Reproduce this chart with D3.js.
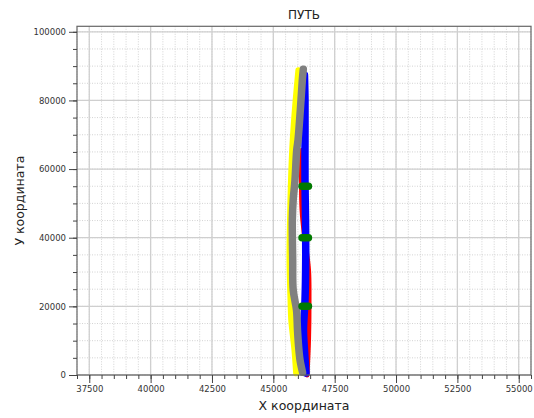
<!DOCTYPE html>
<html>
<head>
<meta charset="utf-8">
<script src="https://cdn.jsdelivr.net/npm/d3@7"></script>
<style>
  body { margin: 0; background: #fff; }
  svg text { font-family: "DejaVu Sans", sans-serif; }
</style>
</head>
<body>
<div id="chart"></div>
<script>
(function () {
  'use strict';

  // path points [x, y]
  var yellowPath = [
    [45930, 500], [45860, 7300], [45770, 13100], [45730, 16000], [45700, 21800],
    [45660, 33500], [45680, 45100], [45720, 56800], [45790, 68400], [45910, 80100], [46020, 88800]
  ];
  var redPath = [
    [46373, 0], [46434, 10200], [46454, 21800], [46434, 30600], [46291, 39300],
    [46170, 48100], [46150, 59700], [46170, 65500]
  ];
  var bluePath = [
    [46332, 600], [46270, 7300], [46230, 13100], [46291, 21800], [46320, 33500],
    [46312, 45100], [46291, 56800], [46291, 68400], [46291, 80100], [46270, 87400]
  ];
  var grayPath = [
    [46190, 800], [46087, 4400], [46026, 8700], [45985, 13100], [45945, 18900],
    [45810, 24800], [45790, 33500], [45775, 45100], [45810, 51000], [45883, 56800],
    [45953, 65500], [46006, 68400], [46100, 77200], [46181, 85900], [46222, 89100]
  ];
  var markerY = [20000, 40000, 55000];
  var markerX = [46170, 46430];

  var xMajor = [37500, 40000, 42500, 45000, 47500, 50000, 52500, 55000];
  var yMajor = [0, 20000, 40000, 60000, 80000, 100000];

  var width = 534, height = 418;
  var left = 77, right = 531, top = 26.3, bottom = 375;

  var svg = d3.select('#chart').append('svg')
    .attr('width', width)
    .attr('height', height);

  var x = d3.scaleLinear().domain([37000, 55500]).range([left, right]);
  var y = d3.scaleLinear().domain([0, 101600]).range([bottom, top]);

  var xMinor = d3.range(37000, 55501, 500);
  var yMinor = d3.range(0, 101001, 5000);

  // minor grid (dotted)
  svg.append('g').selectAll('line').data(xMinor).enter().append('line')
    .attr('x1', function (d) { return x(d); }).attr('x2', function (d) { return x(d); })
    .attr('y1', top).attr('y2', bottom)
    .attr('stroke', '#c8c8c8').attr('stroke-width', 0.8).attr('stroke-dasharray', '1,1.5');
  svg.append('g').selectAll('line').data(yMinor).enter().append('line')
    .attr('y1', function (d) { return y(d); }).attr('y2', function (d) { return y(d); })
    .attr('x1', left).attr('x2', right)
    .attr('stroke', '#c8c8c8').attr('stroke-width', 0.8).attr('stroke-dasharray', '1,1.5');

  // major grid
  svg.append('g').selectAll('line').data(xMajor).enter().append('line')
    .attr('x1', function (d) { return x(d); }).attr('x2', function (d) { return x(d); })
    .attr('y1', top).attr('y2', bottom)
    .attr('stroke', '#cfcfcf').attr('stroke-width', 1.3);
  svg.append('g').selectAll('line').data(yMajor).enter().append('line')
    .attr('y1', function (d) { return y(d); }).attr('y2', function (d) { return y(d); })
    .attr('x1', left).attr('x2', right)
    .attr('stroke', '#cfcfcf').attr('stroke-width', 1.3);

  // paths
  var line = d3.line()
    .x(function (d) { return x(d[0]); })
    .y(function (d) { return y(d[1]); })
    .curve(d3.curveCatmullRom);

  var series = [
    { data: yellowPath, color: '#ffff00', w: 6 },
    { data: redPath, color: '#ff0000', w: 5 },
    { data: bluePath, color: '#0000ff', w: 7.5 },
    { data: grayPath, color: '#808080', w: 7.5 }
  ];
  svg.append('g').selectAll('path').data(series).enter().append('path')
    .attr('d', function (d) { return line(d.data); })
    .attr('fill', 'none')
    .attr('stroke', function (d) { return d.color; })
    .attr('stroke-width', function (d) { return d.w; })
    .attr('stroke-linecap', 'round')
    .attr('stroke-linejoin', 'round');

  svg.append('g').selectAll('line').data(markerY).enter().append('line')
    .attr('x1', x(markerX[0])).attr('x2', x(markerX[1]))
    .attr('y1', function (d) { return y(d); }).attr('y2', function (d) { return y(d); })
    .attr('stroke', '#007a00').attr('stroke-width', 7.5)
    .attr('stroke-linecap', 'round');

  // frame
  svg.append('rect')
    .attr('x', left).attr('y', top)
    .attr('width', right - left).attr('height', bottom - top)
    .attr('fill', 'none').attr('stroke', '#666').attr('stroke-width', 1.2);

  // axes
  var xAxis = svg.append('g').attr('transform', 'translate(0,' + bottom + ')');
  xAxis.call(d3.axisBottom(x).tickValues(xMinor).tickSize(4).tickFormat(''));
  xAxis.append('g').call(d3.axisBottom(x).tickValues(xMajor).tickSize(8).tickPadding(3).tickFormat(d3.format('d')));
  xAxis.selectAll('.domain').remove();

  var yAxis = svg.append('g').attr('transform', 'translate(' + left + ',0)');
  yAxis.call(d3.axisLeft(y).tickValues(yMinor).tickSize(4).tickFormat(''));
  yAxis.append('g').call(d3.axisLeft(y).tickValues(yMajor).tickSize(8).tickPadding(3).tickFormat(d3.format('d')));
  yAxis.selectAll('.domain').remove();

  svg.selectAll('.tick line').attr('stroke', '#444').attr('stroke-width', 1);
  svg.selectAll('.tick text')
    .attr('fill', '#333')
    .style('font-size', '8.5px')
    .style('font-family', '"DejaVu Sans", sans-serif');

  // titles
  svg.append('text')
    .attr('x', 304).attr('y', 19)
    .attr('text-anchor', 'middle')
    .attr('fill', '#222')
    .style('font-size', '12px')
    .text('ПУТЬ');

  svg.append('text')
    .attr('x', 304).attr('y', 410)
    .attr('text-anchor', 'middle')
    .attr('fill', '#222')
    .style('font-size', '12.5px')
    .text('X координата');

  svg.append('text')
    .attr('transform', 'translate(24,' + ((top + bottom) / 2) + ') rotate(-90)')
    .attr('text-anchor', 'middle')
    .attr('fill', '#222')
    .style('font-size', '12.5px')
    .text('У координата');
})();
</script>
</body>
</html>
